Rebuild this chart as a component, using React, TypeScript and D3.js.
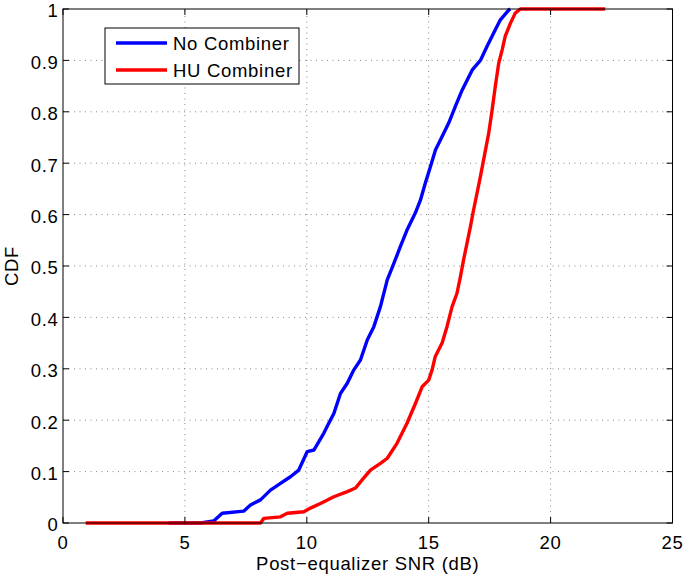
import React from "react";
import * as d3 from "d3";

const xTicks = [0, 5, 10, 15, 20, 25];
const yTicks = [0, 0.1, 0.2, 0.3, 0.4, 0.5, 0.6, 0.7, 0.8, 0.9, 1];

const noCombinerX = [4.33, 5.65, 6.18, 6.53, 7.41, 7.69, 8.1, 8.51, 8.92, 9.33, 9.67, 10.02, 10.29, 10.7, 10.9, 11.11, 11.38, 11.66, 11.93, 12.2, 12.48, 12.75, 13.02, 13.3, 13.57, 13.84, 14.11, 14.45, 14.66, 14.86, 15.07, 15.28, 15.48, 15.82, 16.09, 16.37, 16.78, 17.12, 17.39, 17.66, 17.94, 18.28, 18.35];
const noCombinerCdf = [0, 0, 0.004, 0.019, 0.023, 0.035, 0.045, 0.064, 0.077, 0.09, 0.103, 0.139, 0.142, 0.175, 0.194, 0.213, 0.252, 0.272, 0.298, 0.317, 0.356, 0.382, 0.421, 0.473, 0.505, 0.538, 0.57, 0.603, 0.628, 0.661, 0.693, 0.726, 0.745, 0.778, 0.81, 0.842, 0.881, 0.9, 0.927, 0.953, 0.979, 0.998, 1];

const huCombinerX = [0.93, 8.1, 8.24, 8.92, 9.2, 9.88, 10.15, 10.56, 11.11, 11.66, 12.0, 12.27, 12.61, 13.02, 13.3, 13.7, 14.11, 14.46, 14.73, 15.0, 15.14, 15.27, 15.55, 15.75, 15.96, 16.16, 16.3, 16.43, 16.57, 16.71, 16.84, 16.98, 17.12, 17.25, 17.46, 17.6, 17.73, 17.87, 18.01, 18.14, 18.35, 18.55, 18.76, 22.24];
const huCombinerCdf = [0, 0, 0.009, 0.012, 0.019, 0.022, 0.029, 0.038, 0.051, 0.061, 0.068, 0.084, 0.103, 0.116, 0.126, 0.155, 0.194, 0.233, 0.265, 0.278, 0.298, 0.324, 0.35, 0.382, 0.421, 0.447, 0.479, 0.512, 0.544, 0.576, 0.609, 0.641, 0.674, 0.706, 0.758, 0.803, 0.849, 0.894, 0.92, 0.947, 0.972, 0.992, 1, 1];

const seriesNames = ["No Combiner", "HU Combiner"];
const seriesColors = ["#0000ff", "#ff0000"];

const W = 685;
const H = 578;
const L = 63;
const R = 672.5;
const T = 9;
const B = 523;
const FONT = "'Liberation Sans', Arial, Helvetica, sans-serif";

export default function App() {
  const x = d3.scaleLinear().domain([0, 25]).range([L, R]);
  const y = d3.scaleLinear().domain([0, 1]).range([B, T]);
  const line = d3
    .line<[number, number]>()
    .x((d) => x(d[0]))
    .y((d) => y(d[1]));
  const blue = noCombinerX.map((v, i) => [v, noCombinerCdf[i]] as [number, number]);
  const red = huCombinerX.map((v, i) => [v, huCombinerCdf[i]] as [number, number]);
  const tick = 6;
  const fs = 18.5;
  const ls = 0.7;
  return (
    <svg
      width={W}
      height={H}
      style={{ position: "absolute", left: 0, top: 0, background: "#fff" }}
      fontFamily={FONT}
    >
      <rect x={0} y={0} width={W} height={H} fill="#fff" />
      {/* grid */}
      {xTicks.slice(1, -1).map((t) => (
        <line key={"gx" + t} x1={x(t)} x2={x(t)} y1={B} y2={T} stroke="#888" strokeWidth={1} strokeDasharray="1 4.5" />
      ))}
      {yTicks.slice(1, -1).map((t) => (
        <line key={"gy" + t} x1={L} x2={R} y1={y(t)} y2={y(t)} stroke="#888" strokeWidth={1} strokeDasharray="1 4.5" />
      ))}
      {/* lines */}
      <path d={line(blue) || ""} fill="none" stroke={seriesColors[0]} strokeWidth={3.4} strokeLinejoin="round" />
      <path d={line(red) || ""} fill="none" stroke={seriesColors[1]} strokeWidth={3.4} strokeLinejoin="round" />
      {/* frame */}
      <rect x={L} y={T} width={R - L} height={B - T} fill="none" stroke="#000" strokeWidth={1} />
      {/* ticks */}
      {xTicks.map((t) => (
        <g key={"tx" + t}>
          <line x1={x(t)} x2={x(t)} y1={B} y2={B - tick} stroke="#000" />
          <line x1={x(t)} x2={x(t)} y1={T} y2={T + tick} stroke="#000" />
          <text x={x(t)} y={548.5} textAnchor="middle" fontSize={fs} letterSpacing={ls}>
            {t}
          </text>
        </g>
      ))}
      {yTicks.map((t) => (
        <g key={"ty" + t}>
          <line x1={L} x2={L + tick} y1={y(t)} y2={y(t)} stroke="#000" />
          <line x1={R} x2={R - tick} y1={y(t)} y2={y(t)} stroke="#000" />
          <text x={58.5} y={y(t) + 2} dy="0.35em" textAnchor="end" fontSize={fs} letterSpacing={ls}>
            {String(t)}
          </text>
        </g>
      ))}
      {/* axis labels */}
      <text x={(L + R) / 2} y={570} textAnchor="middle" fontSize={fs} letterSpacing={ls}>
        Post−equalizer SNR (dB)
      </text>
      <text transform={`translate(18,${(T + B) / 2}) rotate(-90)`} textAnchor="middle" fontSize={fs} letterSpacing={ls}>
        CDF
      </text>
      {/* legend */}
      <rect x={105} y={28} width={194} height={56} fill="#fff" stroke="#000" strokeWidth={1} />
      {seriesNames.map((n, i) => (
        <g key={n}>
          <line x1={116} x2={167} y1={43 + i * 27} y2={43 + i * 27} stroke={seriesColors[i]} strokeWidth={3.4} />
          <text x={173} y={43 + i * 27 + 1} dy="0.35em" fontSize={fs} letterSpacing={ls}>
            {n}
          </text>
        </g>
      ))}
    </svg>
  );
}
